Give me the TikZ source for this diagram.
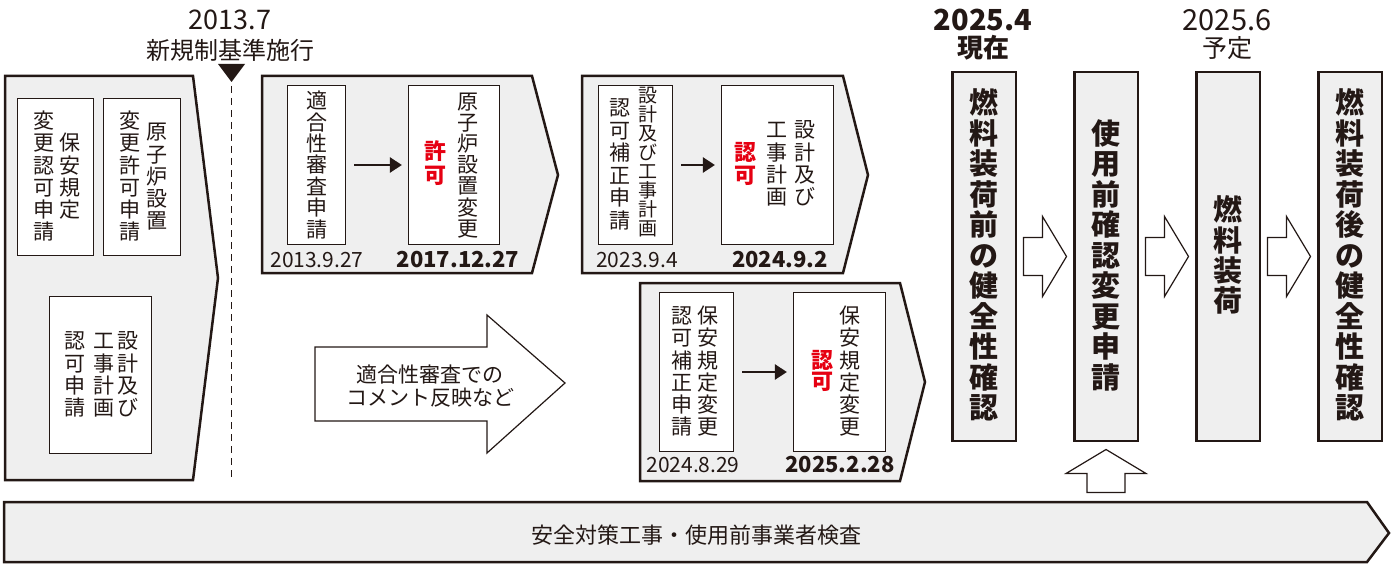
\documentclass[tikz,border=0pt]{standalone}
\usepackage{fontspec}
\setmainfont{Noto Sans CJK JP}
\usepackage{tikz}
\usetikzlibrary{arrows.meta, positioning, calc}
\definecolor{ink}{HTML}{231815}
\definecolor{paper}{HTML}{EFEFEF}
\definecolor{stamp}{HTML}{E60012}
% vertical (tate) text: one character per line
\newlength\tatepitch
\def\tateloop#1{\ifx\relax#1\else\hbox to 1em{\hss\vrule height .82\tatepitch depth .18\tatepitch width 0pt\relax#1\hss}\expandafter\tateloop\fi}
\newcommand\tate[2][1.05em]{\vbox{\offinterlineskip\setlength\tatepitch{#1}\tateloop#2\relax}}
\tikzstyle{stage} = [draw=ink, line width=2.5pt, fill=paper, line join=miter]
\tikzstyle{doc} = [rectangle, draw=ink, line width=1.2pt, fill=white, inner sep=0pt, minimum height=157pt]
\tikzstyle{col} = [inner sep=0pt, text=ink, font=\fontsize{21}{22}\selectfont]
\tikzstyle{ok} = [inner sep=0pt, text=stamp, font=\bfseries\fontsize{22}{24}\selectfont]
\tikzstyle{date} = [inner sep=0pt, text=ink, font=\fontsize{21}{22}\selectfont]
\tikzstyle{fixdate} = [inner sep=0pt, text=ink, font=\bfseries\fontsize{22}{24}\selectfont]
\tikzstyle{milestone} = [rectangle, draw=ink, line width=2.5pt, fill=paper, minimum width=63.5pt, minimum height=368.5pt, inner sep=0pt, text=ink, font=\bfseries\fontsize{29}{30}\selectfont]
\tikzstyle{hollow} = [draw=ink, line width=1.2pt, fill=white, line join=miter]
\tikzstyle{arrow} = [line width=2.5pt, draw=ink, -{Triangle[length=12pt,width=15pt]}, shorten <=8pt, shorten >=6pt]
\tikzset{pics/blockarrow/.style={code={
  \draw[hollow] (-21.5,-19) -- (-2.5,-19) -- (-2.5,-40) -- (21.5,0) -- (-2.5,40) -- (-2.5,19) -- (-21.5,19) -- cycle;}}}

\begin{document}
\begin{tikzpicture}[x=1pt, y=-1pt]
	\useasboundingbox (0,0) rectangle (1396,564);
	
	% stages
	\draw [stage] (5,76) -- (193,76) -- (218,278) -- (193,480) -- (5,480) -- cycle;
	\draw [stage] (262,76) -- (532,76) -- (558,175) -- (532,273) -- (262,273) -- cycle;
	\draw [stage] (582,76) -- (843,76) -- (868,175) -- (843,273) -- (582,273) -- cycle;
	\draw [stage] (640,283) -- (900,283) -- (925,382) -- (900,481) -- (640,481) -- cycle;
	\draw [stage] (4,502) -- (1367,502) -- (1389,533) -- (1367,562) -- (4,562) -- cycle;
	
	% 2013.7
	\node (kijun_date) [inner sep=0pt, text=ink, font=\fontsize{27}{28}\selectfont] at (230,20) {2013.7};
	\node (kijun) [inner sep=0pt, text=ink, font=\fontsize{24}{26}\selectfont] at (230,50) {新規制基準施行};
	\draw [fill=ink, draw=none] (218,64) -- (245,64) -- (231.5,82) -- cycle;
	\coordinate (rule_top) at (231.5,86);
	\coordinate (rule_end) at (231.5,480);
	\draw [ink, line width=1.3pt, dash pattern=on 7pt off 5pt] (rule_top) -- (rule_end);
	
	% before 2013
	\node (hoan_old) [doc, minimum width=76pt] at (55.5,177) {};
	\node (hoan_old_r) [col] at (70,177) {\tate{保安規定}};
	\node (hoan_old_l) [col] at (43.5,177) {\tate{変更認可申請}};
	\node (secchi_old) [doc, minimum width=77pt] at (142,177) {};
	\node (secchi_old_r) [col] at (157,177) {\tate{原子炉設置}};
	\node (secchi_old_l) [col] at (130,177) {\tate{変更許可申請}};
	\node (koji_old) [doc, minimum width=102pt] at (100.5,375) {};
	\node (koji_old_r) [col] at (128,375) {\tate{設計及び}};
	\node (koji_old_m) [col] at (104,375) {\tate{工事計画}};
	\node (koji_old_l) [col] at (75,375) {\tate{認可申請}};
	
	% setchi henko
	\node (tekigo) [doc, minimum width=58pt, minimum height=159pt] at (316.5,165) {};
	\node (tekigo_t) [col] at (317,166) {\tate[21pt]{適合性審査申請}};
	\node (secchi) [doc, minimum width=91pt, minimum height=159pt] at (454,165) {};
	\node (secchi_t) [col] at (468,166) {\tate[21pt]{原子炉設置変更}};
	\node (secchi_ok) [ok] at (435,164) {\tate[24pt]{許可}};
	\node (tekigo_date) [date] at (317,260) {2013.9.27};
	\node (secchi_date) [fixdate] at (458,260) {2017.12.27};
	
	% koji keikaku
	\node (hosei) [doc, minimum width=74pt, minimum height=159pt] at (635.5,165) {};
	\node (hosei_r) [col, font=\fontsize{19}{19}\selectfont] at (648,163) {\tate[18.75pt]{設計及び工事計画}};
	\node (hosei_l) [col] at (620,165) {\tate[22.5pt]{認可補正申請}};
	\node (koji) [doc, minimum width=112pt, minimum height=159pt] at (777.5,165) {};
	\node (koji_r) [col] at (805,164) {\tate{設計及び}};
	\node (koji_m) [col] at (777,164) {\tate{工事計画}};
	\node (koji_ok) [ok] at (745,165) {\tate[23pt]{認可}};
	\node (hosei_date) [date] at (637,260) {2023.9.4};
	\node (koji_date) [fixdate] at (780,260) {2024.9.2};
	
	% hoan kitei
	\node (hoan_hosei) [doc, minimum width=74pt, minimum height=159pt] at (696.5,372) {};
	\node (hoan_hosei_r) [col] at (708,372) {\tate{保安規定変更}};
	\node (hoan_hosei_l) [col] at (682,372) {\tate{認可補正申請}};
	\node (hoan) [doc, minimum width=92pt, minimum height=159pt] at (839.5,372) {};
	\node (hoan_r) [col] at (850,372) {\tate{保安規定変更}};
	\node (hoan_ok) [ok] at (822,372) {\tate[21pt]{認可}};
	\node (hoan_hosei_date) [date] at (693,465) {2024.8.29};
	\node (hoan_date) [fixdate] at (840,465) {2025.2.28};
	
	\draw [arrow] (tekigo) -- (secchi);
	\draw [arrow] (hosei) -- (koji);
	\draw [arrow] (hoan_hosei) -- (hoan);
	
	% comment arrow
	\draw [hollow] (315,347) -- (487,347) -- (487,315) -- (565,383) -- (487,453) -- (487,421) -- (315,421) -- cycle;
	\node (comment) [inner sep=0pt, text=ink, align=center, font=\fontsize{21}{23}\selectfont] at (430,386) {適合性審査での\\コメント反映など};
	
	% from 2025.4
	\node (kenzen_pre) [milestone] at (984,256.5) {\tate{燃料装荷前の健全性確認}};
	\node (shiyo) [milestone, right=56pt of kenzen_pre] {\tate{使用前確認変更申請}};
	\node (sokan) [milestone, right=56pt of shiyo] {\tate{燃料装荷}};
	\node (kenzen_post) [milestone, right=56pt of sokan] {\tate{燃料装荷後の健全性確認}};
	
	\node (now_date) [inner sep=0pt, text=ink, font=\bfseries\fontsize{29}{30}\selectfont] at (983,20) {2025.4};
	\node (now) [inner sep=0pt, text=ink, font=\bfseries\fontsize{26}{28}\selectfont] at (983,48) {現在};
	\node (plan_date) [inner sep=0pt, text=ink, font=\fontsize{29}{30}\selectfont] at (1227,20) {2025.6};
	\node (plan) [inner sep=0pt, text=ink, font=\fontsize{25}{27}\selectfont] at (1227,48) {予定};
	
	\foreach \a/\b in {kenzen_pre/shiyo, shiyo/sokan, sokan/kenzen_post}
		\pic at ($(\a.east)!0.5!(\b.west)$) {blockarrow};
	\pic [rotate=90] at ($(shiyo.south)+(0,29)$) {blockarrow};
	
	% bottom
	\node (kensa) [inner sep=0pt, text=ink, font=\fontsize{22}{24}\selectfont] at (696.5,535) {安全対策工事・使用前事業者検査};
	
\end{tikzpicture}
\end{document}
